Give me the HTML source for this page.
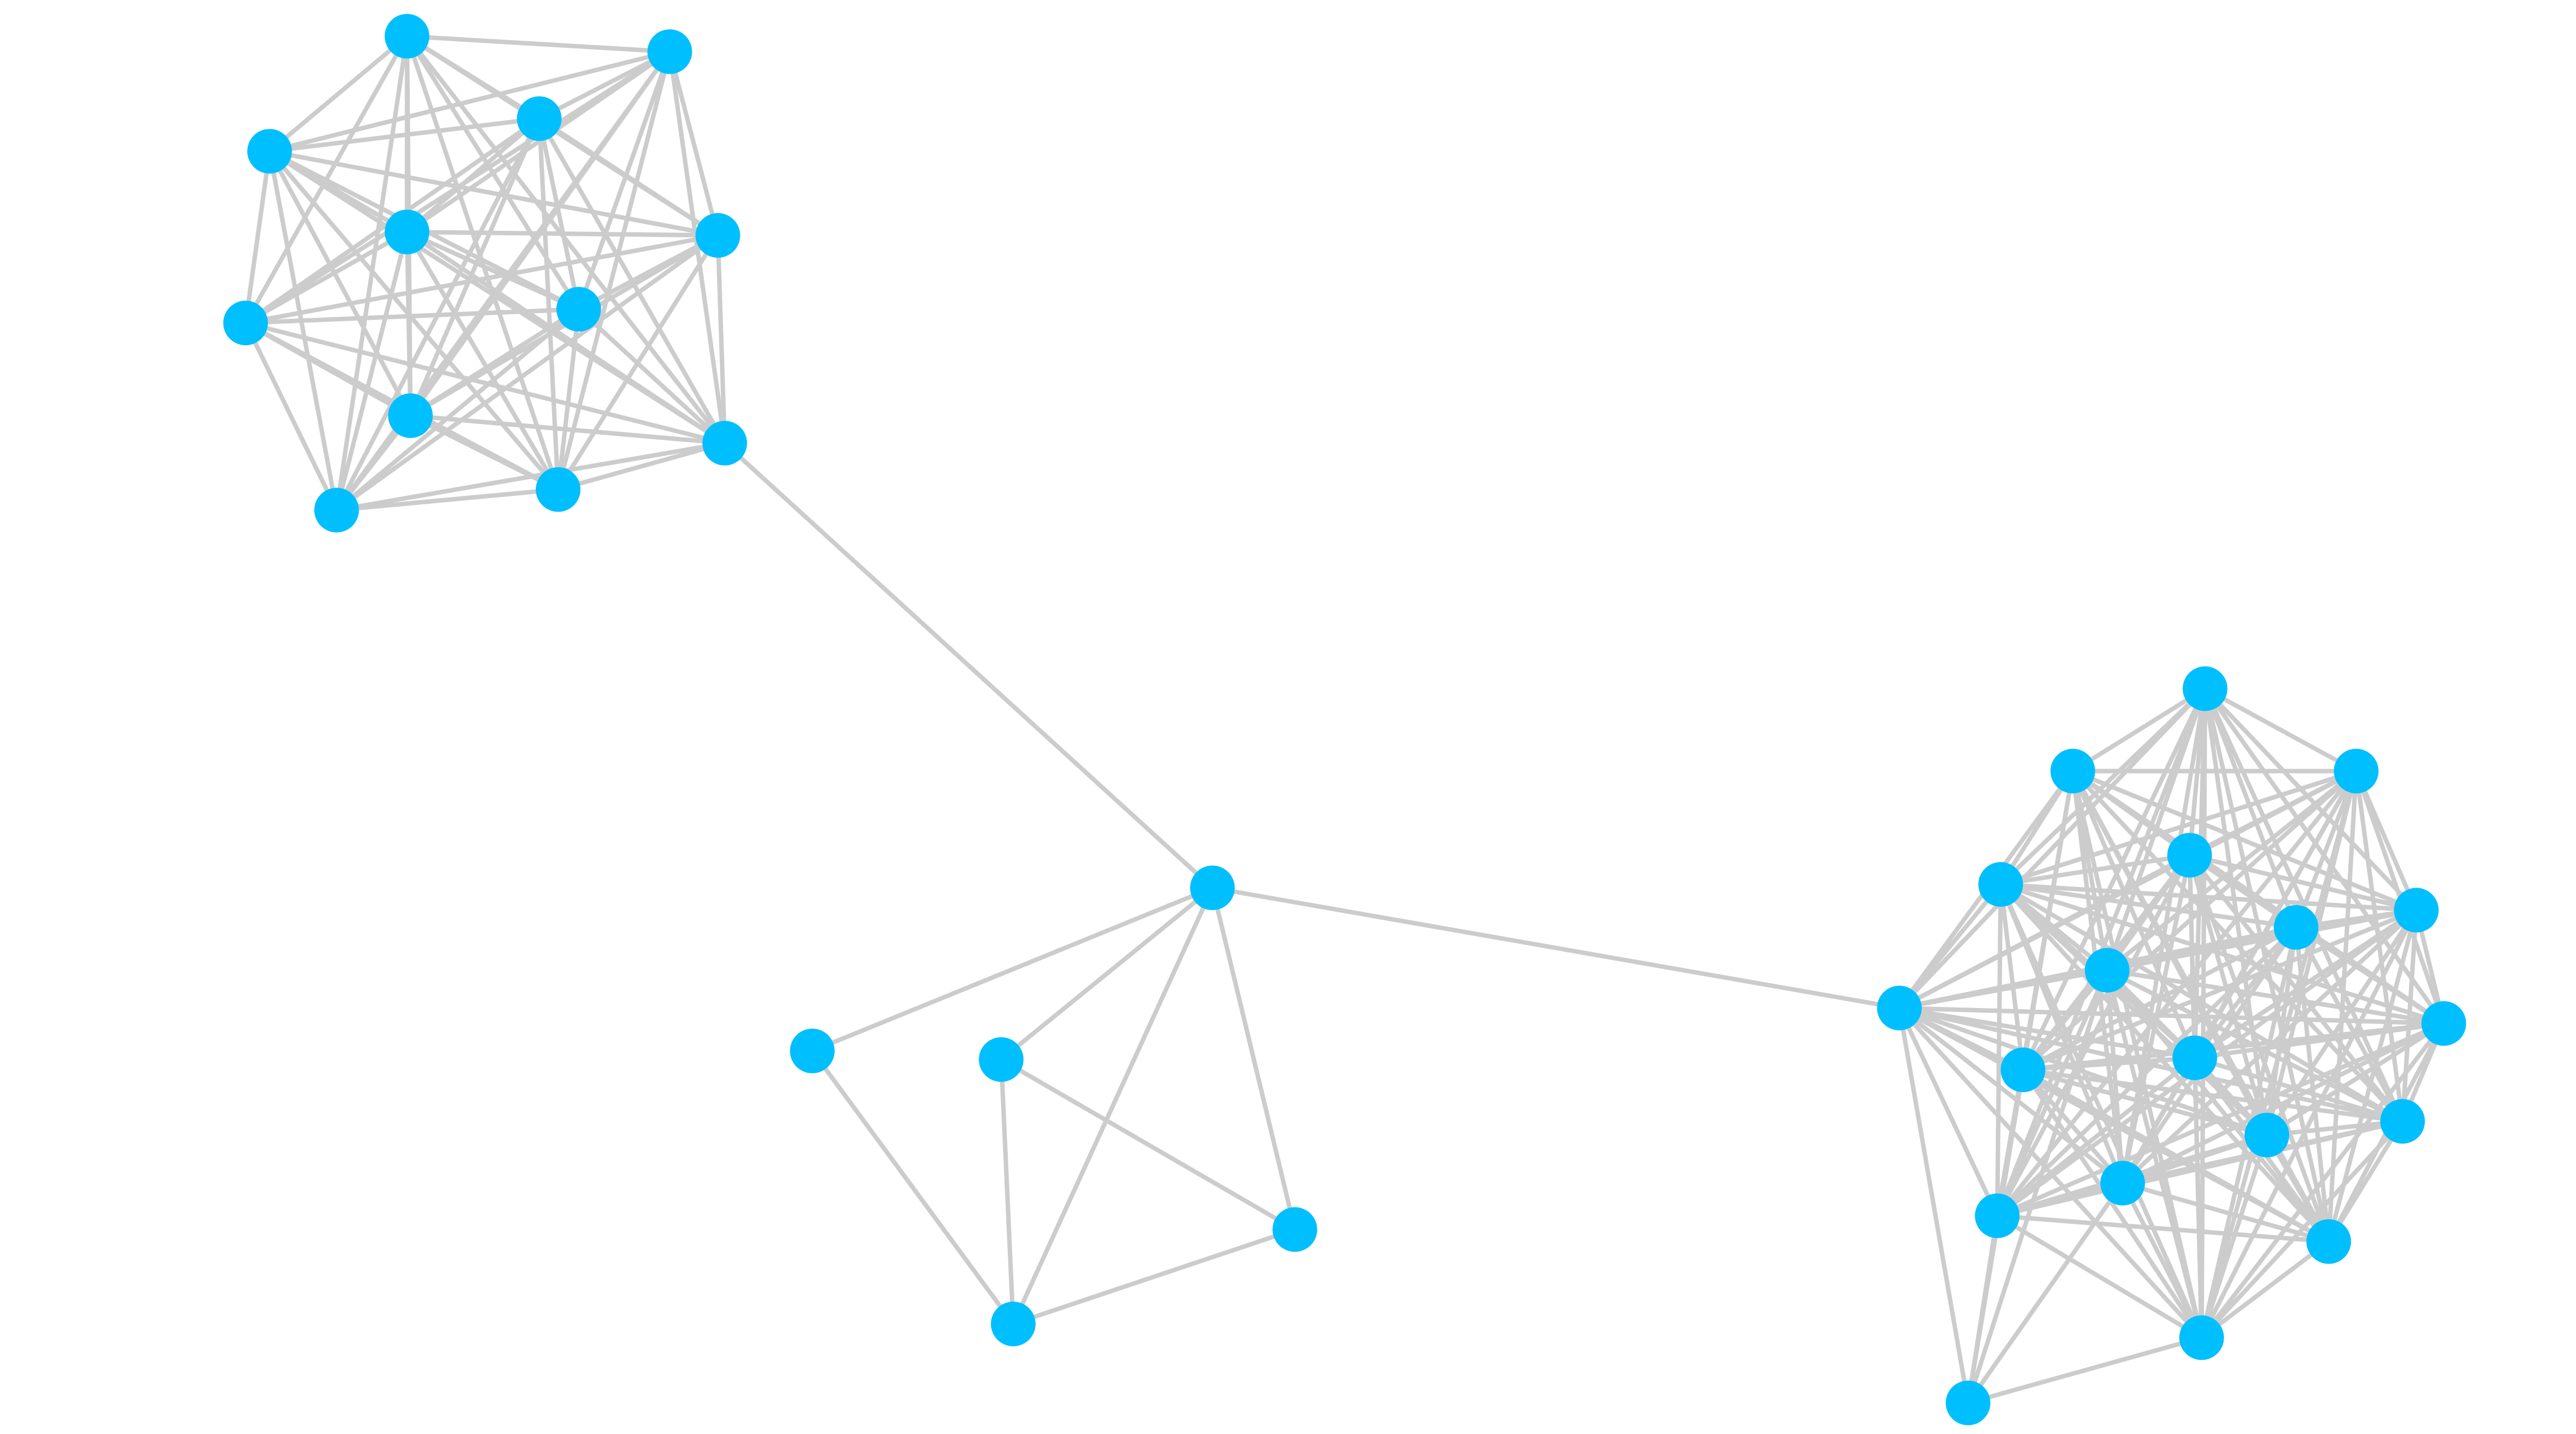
<!DOCTYPE html>
<html><head><meta charset="utf-8"><style>
html,body{margin:0;padding:0;background:#fff;width:5200px;height:2784px;overflow:hidden}
svg{display:block}
</style></head><body>
<svg id="g" xmlns="http://www.w3.org/2000/svg" width="5200" height="2784" viewBox="0 0 1560 835"></svg>
<script>
const A=[[237,21],[390,30],[157,88],[314,69],[237,135],[418,137],[143,188],[337,180],[239,242],[422,258],[196,297],[325,285]];
const M=[[706,517],[473,612],[583,617],[754,716],[590,771]];
const C=[[1106,587],[1284,401],[1207,449],[1372,449],[1165,515],[1275,498],[1407,530],[1337,540],[1227,565],[1423,596],[1178,623],[1278,616],[1320,661],[1399,653],[1236,689],[1163,708],[1356,723],[1282,779],[1146,817]];
const E=[];
for(let i=0;i<A.length;i++)for(let j=i+1;j<A.length;j++)E.push([A[i],A[j]]);
const C18=C.length-1;
for(let i=0;i<C18;i++)for(let j=i+1;j<C18;j++)E.push([C[i],C[j]]);
[0,15,14,17,10,8].forEach(k=>E.push([C[C18],C[k]]));
[[0,1],[0,2],[0,4],[0,3],[1,4],[2,4],[2,3],[4,3]].forEach(p=>E.push([M[p[0]],M[p[1]]]));
E.push([M[0],A[9]]);E.push([M[0],C[0]]);
let s='';
E.forEach(e=>{s+=`<line x1="${e[0][0]}" y1="${e[0][1]}" x2="${e[1][0]}" y2="${e[1][1]}" stroke="#cccccc" stroke-width="2.6"/>`;});
A.concat(M,C).forEach(n=>{s+=`<circle cx="${n[0]}" cy="${n[1]}" r="13" fill="#00bfff"/>`;});
document.getElementById('g').innerHTML=s;
</script>
</body></html>
